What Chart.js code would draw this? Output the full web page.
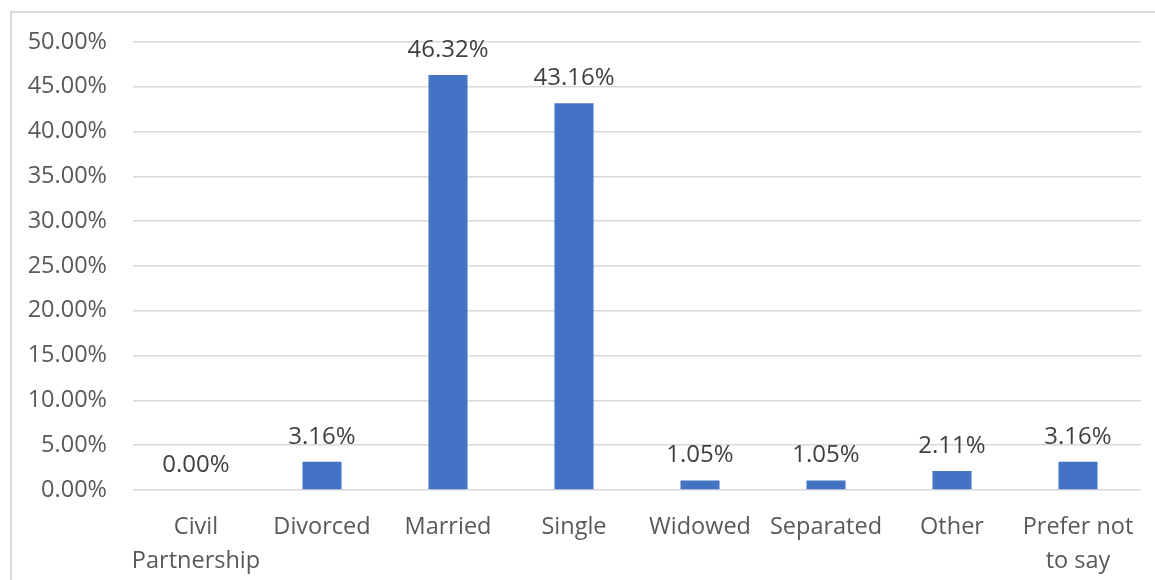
<!DOCTYPE html>
<html>
<head>
<meta charset="utf-8">
<script src="https://cdn.jsdelivr.net/npm/chart.js@4/dist/chart.umd.min.js"></script>
<style>
	html, body { margin: 0; padding: 0; background: #fff; }
	#wrap { position: relative; width: 1155px; height: 580px; overflow: hidden; }
	#frame { position: absolute; left: 10px; top: 11px; width: 1200px; height: 600px;
		border-left: 2px solid #d9d9d9; border-top: 2px solid #d9d9d9; }
	canvas { position: absolute; left: 0; top: 0; }
</style>
</head>
<body>
<div id="wrap">
	<div id="frame"></div>
	<canvas id="myChart" width="1155" height="580"></canvas>
</div>
<script>
const categories = [['Civil', 'Partnership'], 'Divorced', 'Married', 'Single', 'Widowed', 'Separated', 'Other', ['Prefer not', 'to say']];
const shares = [0.00, 3.16, 46.32, 43.16, 1.05, 1.05, 2.11, 3.16];
const yMax = 50;
const yStep = 5;

const fontFamily = "'Open Sans', 'Noto Sans', sans-serif";

// value labels above each bar
const barLabels = {
	id: 'barLabels',
	afterDatasetsDraw(chart) {
		const ctx = chart.ctx;
		const meta = chart.getDatasetMeta(0);
		ctx.save();
		ctx.font = '24px ' + fontFamily;
		ctx.fillStyle = '#404040';
		ctx.textAlign = 'center';
		ctx.textBaseline = 'middle';
		meta.data.forEach((bar, i) => {
			ctx.fillText(shares[i].toFixed(2) + '%', bar.x, bar.y - 25);
		});
		ctx.restore();
	}
};

Chart.defaults.font.family = fontFamily;
Chart.defaults.font.size = 23.5;
Chart.defaults.color = '#595959';

const ctx = document.getElementById('myChart').getContext('2d');
const myChart = new Chart(ctx, {
	type: 'bar',
	data: {
		labels: categories,
		datasets: [{
			data: shares,
			backgroundColor: '#4472C4',
			borderWidth: 0,
			categoryPercentage: 1,
			barPercentage: 0.31,
		}],
	},
	options: {
		responsive: false,
		animation: false,
		layout: {
			padding: { top: 42, right: 14, bottom: 0, left: 0 }
		},
		plugins: {
			legend: { display: false },
			tooltip: { enabled: false },
		},
		scales: {
			x: {
				grid: { display: false },
				border: { display: false },
				ticks: {
					color: '#595959',
					padding: 12,
					maxRotation: 0,
					autoSkip: false,
					font: { size: 23.5, lineHeight: 1.45 },
				},
				afterFit(scale) { scale.height = 90; },
			},
			y: {
				min: 0,
				max: yMax,
				border: { display: false },
				grid: {
					color: '#d9d9d9',
					lineWidth: 1.5,
					drawTicks: false,
				},
				ticks: {
					stepSize: yStep,
					padding: 26,
					color: '#595959',
					callback: v => v.toFixed(2) + '%',
				},
				afterFit(scale) { scale.width = 133; },
			}
		}
	},
	plugins: [barLabels]
});
</script>
</body>
</html>
